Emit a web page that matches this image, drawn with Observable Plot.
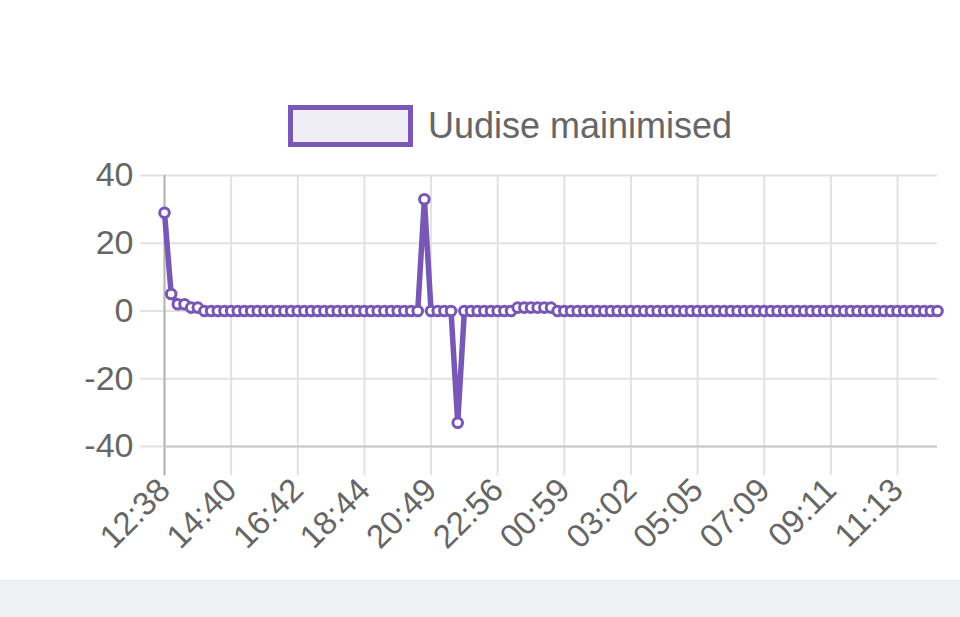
<!DOCTYPE html>
<html><head><meta charset="utf-8">
<script src="https://cdn.jsdelivr.net/npm/d3@7"></script>
<script src="https://cdn.jsdelivr.net/npm/@observablehq/plot@0.6"></script>
<style>
body{margin:0;background:#fff;font-family:"Liberation Sans",Arial,sans-serif;}
#wrap{position:relative;width:960px;height:617px;overflow:hidden;}
#legend{position:absolute;left:288px;top:105px;display:flex;align-items:center;}
.sw{width:115px;height:32px;border:5px solid #7857b6;background:#efedf6;}
.lt{margin-left:15px;font-size:36px;color:#666;line-height:42px;}
#chart{position:absolute;left:0;top:0;}
#band{position:absolute;left:0;top:580px;width:960px;height:37px;background:#eff2f5;border-top:1px solid #ebebeb;}
</style></head>
<body>
<div id="wrap">
  <div id="chart"></div>
  <div id="legend"><div class="sw"></div><div class="lt">Uudise mainimised</div></div>
  <div id="band"></div>
</div>
<script>
const seriesName = "Uudise mainimised";
const tickLabels = ["12:38","14:40","16:42","18:44","20:49","22:56","00:59","03:02","05:05","07:09","09:11","11:13"];
const tickIndex = [0,10,20,30,40,50,60,70,80,90,100,110];
const yTicks = [-40,-20,0,20,40];
const values = [
 29,5,2,2,1,1,0,0,0,0,
 0,0,0,0,0,0,0,0,0,0,
 0,0,0,0,0,0,0,0,0,0,
 0,0,0,0,0,0,0,0,0,33,
 0,0,0,0,-33,0,0,0,0,0,
 0,0,0,1,1,1,1,1,1,0,
 0,0,0,0,0,0,0,0,0,0,
 0,0,0,0,0,0,0,0,0,0,
 0,0,0,0,0,0,0,0,0,0,
 0,0,0,0,0,0,0,0,0,0,
 0,0,0,0,0,0,0,0,0,0,
 0,0,0,0,0,0,0
];
const purple = "#7857b6";
const data = values.map((v,i)=>({i, v}));
const lastIdx = values.length - 1;
const chart = Plot.plot({
  width:960, height:580,
  marginLeft:164, marginRight:23, marginTop:175, marginBottom:134,
  x:{domain:[0,lastIdx], axis:null},
  y:{domain:[-40,40], axis:null},
  style:{background:"transparent", fontFamily:"'Liberation Sans', Arial, sans-serif"},
  marks:[
    Plot.ruleY(yTicks, {y:d=>d, x1:-3.6, x2:lastIdx, stroke:"#e2e2e2", strokeWidth:2}),
    Plot.ruleX(tickIndex, {x:d=>d, y1:40, y2:-48.6, stroke:"#e2e2e2", strokeWidth:2}),
    Plot.ruleX([0], {x:d=>d, y1:40, y2:-48.6, stroke:"#b5b5b5", strokeWidth:2}),
    Plot.ruleY([-40], {y:d=>d, x1:0, x2:lastIdx, stroke:"#c8c8c8", strokeWidth:2}),
    Plot.line(data, {x:"i", y:"v", stroke:purple, strokeWidth:5.5}),
    Plot.dot(data, {x:"i", y:"v", r:4.8, fill:"white", stroke:purple, strokeWidth:3}),
    Plot.text(yTicks, {x:0, y:d=>d, text:d=>String(d), textAnchor:"end", dx:-31, fontSize:34, fill:"#666"}),
    Plot.text(tickIndex, {x:d=>d, y:-40, dy:38, dx:0, text:(d,i)=>tickLabels[i], rotate:-45, textAnchor:"end", fontSize:33, fill:"#666"})
  ]
});
document.getElementById("chart").appendChild(chart);
</script>
</body></html>
